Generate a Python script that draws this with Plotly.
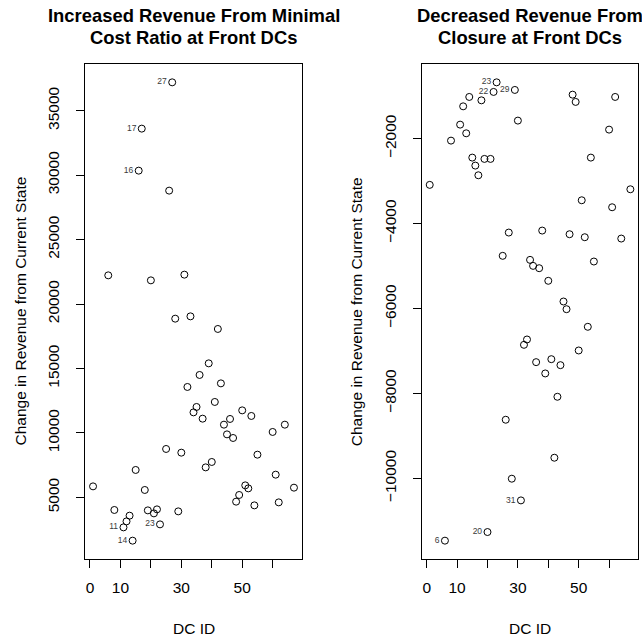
import plotly.graph_objects as go

# ---- data ----
dc_ids = [1, 6, 8, 11, 12, 13, 14, 15, 16, 17, 18, 19, 20, 21, 22, 23, 25, 26, 27, 28,
          29, 30, 31, 32, 33, 34, 35, 36, 37, 38, 39, 40, 41, 42, 43, 44, 45, 46, 47, 48,
          49, 50, 51, 52, 53, 54, 55, 60, 61, 62, 64, 67]

rev_min_cost = [5853, 22223, 4022, 2673, 3138, 3580, 1641, 7126, 30345, 33604, 5574, 3991,
                21835, 3759, 4069, 2905, 8755, 28794, 37196, 18863, 3914, 8468, 22277, 13565,
                19042, 11594, 12013, 14496, 11105, 7327, 15396, 7746, 12401, 18064, 13844,
                10640, 9888, 11082, 9608, 4666, 5186, 11749, 5931, 5698, 11315, 4379, 8313,
                10074, 6761, 4612, 10640, 5753]

rev_closure = [-3089, -11466, -2047, -1671, -1240, -1875, -1019, -2447, -2635, -2863, -1099,
               -2478, -11263, -2478, -901, -675, -4760, -8619, -4212, -10007, -854, -1576,
               -10518, -6855, -6729, -4855, -4996, -7263, -5051, -4165, -7529, -5348, -7193,
               -9513, -8078, -7334, -5835, -6016, -4251, -965, -1136, -6988, -3452, -4322,
               -6431, -2447, -4894, -1788, -3616, -1019, -4353, -3193]

labels_left = [27, 17, 16, 11, 14, 23]
labels_right = [23, 22, 29, 31, 20, 6]

x_tickvals = [0, 10, 20, 30, 40, 50, 60]
x_ticktext = ["0", "10", "", "30", "", "50", ""]
y1_tickvals = [5000, 10000, 15000, 20000, 25000, 30000, 35000]
y1_ticktext = ["5000", "10000", "15000", "20000", "25000", "30000", "35000"]
y2_tickvals = [-10000, -8000, -6000, -4000, -2000]
y2_ticktext = ["\u221210000", "\u22128000", "\u22126000", "\u22124000", "\u22122000"]

title_left = ["Increased Revenue From Minimal", "Cost Ratio at Front DCs"]
title_right = ["Decreased Revenue From", "Closure at Front DCs"]
ylab = "Change in Revenue from Current State"
xlab = "DC ID"

# ---- helpers ----
W, H = 642, 640
FONT = "Liberation Sans, Arial, Helvetica, sans-serif"
BASE = 15.5


def rrange(v):
    lo, hi = min(v), max(v)
    d = (hi - lo) * 0.04
    return [lo - d, hi + d]


def px(xp):
    return xp / W


def py(yp):
    return 1 - yp / H


fig = go.Figure()

for vals, labs, xa, ya in [(rev_min_cost, labels_left, "x", "y"),
                           (rev_closure, labels_right, "x2", "y2")]:
    txt = [str(i) if i in labs else "" for i in dc_ids]
    fig.add_trace(go.Scatter(
        x=dc_ids, y=vals, mode="markers+text", text=txt,
        textposition="middle left",
        textfont=dict(family=FONT, size=8.5, color="#3a3a3a"),
        marker=dict(symbol="circle-open", size=7, color="black",
                    line=dict(width=1, color="black")),
        xaxis=xa, yaxis=ya, showlegend=False, cliponaxis=False,
    ))

axis_common = dict(showline=True, mirror=True, linecolor="black", linewidth=1,
                   ticks="outside", ticklen=8, tickwidth=1, tickcolor="black",
                   showgrid=False, zeroline=False,
                   tickfont=dict(family=FONT, size=BASE, color="black"))

xr = rrange(dc_ids)
fig.update_layout(
    width=W, height=H, margin=dict(l=0, r=0, t=0, b=0),
    plot_bgcolor="white", paper_bgcolor="white",
    xaxis=dict(domain=[px(85), px(302)], range=xr, tickvals=x_tickvals,
               ticktext=x_ticktext, anchor="y", ticklabelstandoff=6, **axis_common),
    yaxis=dict(domain=[py(559), py(64)], range=rrange(rev_min_cost),
               tickvals=y1_tickvals, ticktext=y1_ticktext, tickangle=-90, anchor="x",
               ticklabelstandoff=11, **axis_common),
    xaxis2=dict(domain=[px(421.7), px(638.4)], range=xr, tickvals=x_tickvals,
                ticktext=x_ticktext, anchor="y2", ticklabelstandoff=6, **axis_common),
    yaxis2=dict(domain=[py(559), py(64)], range=rrange(rev_closure),
                tickvals=y2_tickvals, ticktext=y2_ticktext, tickangle=-90, anchor="x2",
                ticklabelstandoff=11, **axis_common),
)

ann = []
for cx, tl in [(193.5, title_left), (530, title_right)]:
    for yy, line in zip([15, 38], tl):
        ann.append(dict(x=px(cx), y=py(yy), xref="paper", yref="paper", text="<b>%s</b>" % line,
                        showarrow=False, xanchor="center", yanchor="middle",
                        font=dict(family=FONT, size=18.4, color="black")))
    ann.append(dict(x=px(cx), y=py(628), xref="paper", yref="paper", text=xlab,
                    showarrow=False, xanchor="center", yanchor="middle",
                    font=dict(family=FONT, size=BASE, color="black")))
for cx in [20, 356.7]:
    ann.append(dict(x=px(cx), y=py(311.5), xref="paper", yref="paper", text=ylab,
                    textangle=-90, showarrow=False, xanchor="center", yanchor="middle",
                    font=dict(family=FONT, size=BASE, color="black")))
fig.update_layout(annotations=ann)

fig.write_html("out.html")
